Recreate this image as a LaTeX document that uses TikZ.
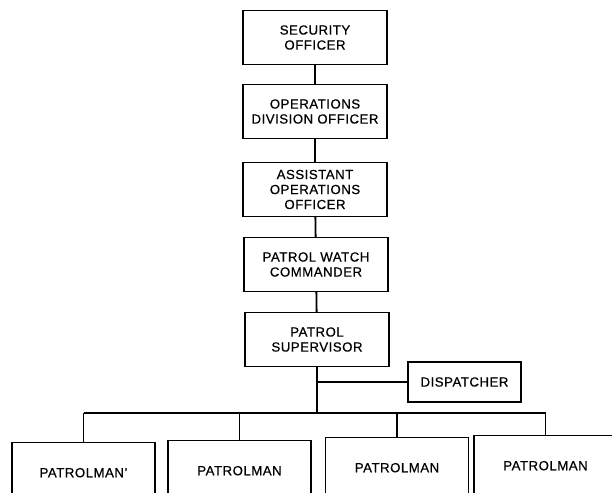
\documentclass[tikz,border=0pt]{standalone}
\usepackage{fontspec}
\setmainfont[LetterSpace=4,FakeBold=0.6]{Liberation Sans}
\begin{document}
\begin{tikzpicture}[x=1pt,y=-1pt,
  box/.style={draw, line width=1.4pt, minimum width=144pt, minimum height=54pt,
    align=center, inner sep=0pt, font=\fontsize{13.2}{15}\selectfont},
  pbox/.style={box, anchor=north, minimum width=143pt, minimum height=60pt},
  link/.style={line width=1.8pt}]
\clip (0,0) rectangle (612,492);
\node[box] (so) at (315,37.5) {SECURITY\\OFFICER};
\node[box] (od) at (315,111.5) {OPERATIONS\\DIVISION OFFICER};
\node[box] (ao) at (315,189.5) {ASSISTANT\\OPERATIONS\\OFFICER};
\node[box] (pw) at (316,264.5) {PATROL WATCH\\COMMANDER};
\node[box] (ps) at (317,339.5) {PATROL\\SUPERVISOR};
\node[box, minimum width=113pt, minimum height=40pt] (disp) at (464.5,382) {DISPATCHER};
\node[pbox] (p1) at (83.5,442) {PATROLMAN'};
\node[pbox] (p2) at (239.5,440) {PATROLMAN};
\node[pbox] (p3) at (397,437) {PATROLMAN};
\node[pbox] (p4) at (545.5,435) {PATROLMAN};
\coordinate (bus) at (317,413);
\draw[link] (so) -- (od);
\draw[link] (od) -- (ao);
\draw[link] (ao) -- (pw);
\draw[link] (pw) -- (ps);
\draw[link] (ps.south) -- (bus);
\draw[link] (disp.west) -- (disp.west -| bus);
\draw[link] (p1.north |- bus) -- (p4.north |- bus);
\draw[link] (p1.north) -- (p1.north |- bus);
\draw[link] (p2.north) -- (p2.north |- bus);
\draw[link] (p3.north) -- (p3.north |- bus);
\draw[link] (p4.north) -- (p4.north |- bus);
\end{tikzpicture}
\end{document}
